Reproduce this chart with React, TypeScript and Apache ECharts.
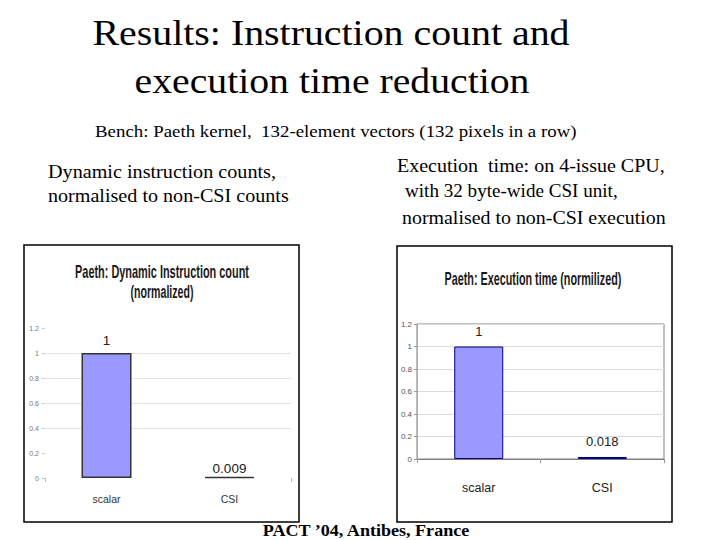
import React, { useEffect, useRef } from "react";
import * as echarts from "echarts";

const categories = ["scalar", "CSI"];
const instructionCounts = [1, 0.009];
const executionTimes = [1, 0.018];
const yMin = 0;
const yMax = 1.2;
const yStep = 0.2;

const SERIF = "'Liberation Serif', 'Times New Roman', serif";
const SANS = "'Liberation Sans', Arial, sans-serif";

function measure(text: string, font: string): number {
  const c = document.createElement("canvas").getContext("2d");
  if (!c) return 0;
  c.font = font;
  return c.measureText(text).width;
}

function fitText(
  text: string,
  x: number,
  y: number,
  width: number,
  size: number,
  opt: { family: string; weight?: string; color?: string; align?: string }
) {
  const weight = opt.weight || "normal";
  const font = `${weight} ${size}px ${opt.family}`;
  const w = measure(text, font);
  let sx = w > 0 ? width / w : 1;
  sx = Math.max(0.5, Math.min(1.5, sx));
  return {
    type: "text",
    x,
    y,
    scaleX: sx,
    silent: true,
    style: {
      text,
      font,
      fill: opt.color || "#000",
      textAlign: opt.align || "center",
      textVerticalAlign: "middle",
    },
  };
}

export default function App() {
  const ref = useRef<HTMLDivElement>(null);

  useEffect(() => {
    if (!ref.current) return;
    const chart = echarts.init(ref.current, undefined, { renderer: "svg" });

    const graphics: any[] = [
      fitText("Results: Instruction count and", 331, 33, 477, 36, { family: SERIF }),
      fitText("execution time reduction", 332, 81, 395, 36, { family: SERIF }),
      fitText("Bench: Paeth kernel,  132-element vectors (132 pixels in a row)", 95, 131, 482, 17, {
        family: SERIF,
        align: "left",
      }),
      fitText("Dynamic instruction counts,", 48, 172, 228, 18, { family: SERIF, align: "left" }),
      fitText("normalised to non-CSI counts", 48, 196, 241, 18, { family: SERIF, align: "left" }),
      fitText("Execution  time: on 4-issue CPU,", 397, 166, 268, 18, { family: SERIF, align: "left" }),
      fitText("with 32 byte-wide CSI unit,", 405, 191, 213, 18, { family: SERIF, align: "left" }),
      fitText("normalised to non-CSI execution", 402, 218, 264, 18, { family: SERIF, align: "left" }),
      fitText("PACT \u201904, Antibes, France", 366, 530, 208, 17, { family: SERIF, weight: "bold" }),
      {
        type: "rect",
        shape: { x: 24, y: 245, width: 275, height: 277 },
        silent: true,
        style: { fill: "none", stroke: "#000", lineWidth: 1.5 },
      },
      {
        type: "rect",
        shape: { x: 397, y: 246, width: 275, height: 276 },
        silent: true,
        style: { fill: "none", stroke: "#000", lineWidth: 1.5 },
      },
      fitText("Paeth: Dynamic Instruction count", 162, 272, 174, 18, {
        family: SANS,
        weight: "bold",
        color: "#1a1a1a",
      }),
      fitText("(normalized)", 162, 292, 63, 18, { family: SANS, weight: "bold", color: "#1a1a1a" }),
      fitText("Paeth: Execution time (normilized)", 533, 279, 177, 18, {
        family: SANS,
        weight: "bold",
        color: "#1a1a1a",
      }),
    ];

    const leftLabelDistances = [6, 1];

    chart.setOption({
      animation: false,
      backgroundColor: "#fff",
      graphic: graphics,
      grid: [
        { left: 45, right: 429, top: 328, bottom: 62, show: false },
        {
          left: 417,
          right: 56,
          top: 324,
          bottom: 81,
          show: true,
          borderColor: "#808080",
          borderWidth: 1,
        },
      ],
      xAxis: [
        {
          type: "category",
          gridIndex: 0,
          data: categories,
          axisLine: { show: false },
          axisTick: {
            show: true,
            interval: (index: number) => index === 1,
            length: 4,
            lineStyle: { color: "#bbb" },
          },
          axisLabel: { margin: 15, fontSize: 10.5, color: "#333", fontFamily: SANS },
        },
        {
          type: "category",
          gridIndex: 1,
          data: categories,
          axisLine: { show: true, lineStyle: { color: "#808080" } },
          axisTick: { show: true, length: 4, lineStyle: { color: "#999" } },
          axisLabel: { margin: 22, fontSize: 12.5, color: "#222", fontFamily: SANS },
        },
      ],
      yAxis: [
        {
          type: "value",
          gridIndex: 0,
          min: yMin,
          max: yMax,
          interval: yStep,
          axisLine: { show: false },
          axisTick: { show: true, length: 3, lineStyle: { color: "#ccc" } },
          axisLabel: { margin: 6, fontSize: 7, color: "#777", fontFamily: SANS },
          splitLine: {
            show: true,
            lineStyle: {
              color: ["transparent", "transparent", "#e2e2e2", "#e2e2e2", "#e2e2e2", "#e2e2e2", "transparent"],
            },
          },
        },
        {
          type: "value",
          gridIndex: 1,
          min: yMin,
          max: yMax,
          interval: yStep,
          axisLine: { show: true, lineStyle: { color: "#aaa" } },
          axisTick: { show: true, length: 3, lineStyle: { color: "#999" } },
          axisLabel: { margin: 5, fontSize: 8, color: "#555", fontFamily: SANS },
          splitLine: { show: true, lineStyle: { color: "#dcdcdc" } },
        },
      ],
      series: [
        {
          type: "bar",
          xAxisIndex: 0,
          yAxisIndex: 0,
          data: instructionCounts.map((v, i) => ({
            value: v,
            label: { distance: leftLabelDistances[i] },
          })),
          barWidth: 50,
          itemStyle: { color: "#9999ff", borderColor: "#333", borderWidth: 1.5 },
          label: {
            show: true,
            position: "top",
            fontSize: 13.5,
            color: "#222",
            fontFamily: SANS,
            formatter: (p: any) => String(p.value),
          },
        },
        {
          type: "bar",
          xAxisIndex: 1,
          yAxisIndex: 1,
          data: executionTimes,
          barWidth: 49,
          itemStyle: { color: "#9999ff", borderColor: "#000080", borderWidth: 1 },
          label: {
            show: true,
            position: "top",
            distance: 9,
            fontSize: 13,
            color: "#222",
            fontFamily: SANS,
            formatter: (p: any) => String(p.value),
          },
        },
      ],
    });

    return () => {
      chart.dispose();
    };
  }, []);

  return (
    <div
      ref={ref}
      style={{ position: "fixed", left: 0, top: 0, width: 720, height: 540, background: "#fff" }}
    />
  );
}
